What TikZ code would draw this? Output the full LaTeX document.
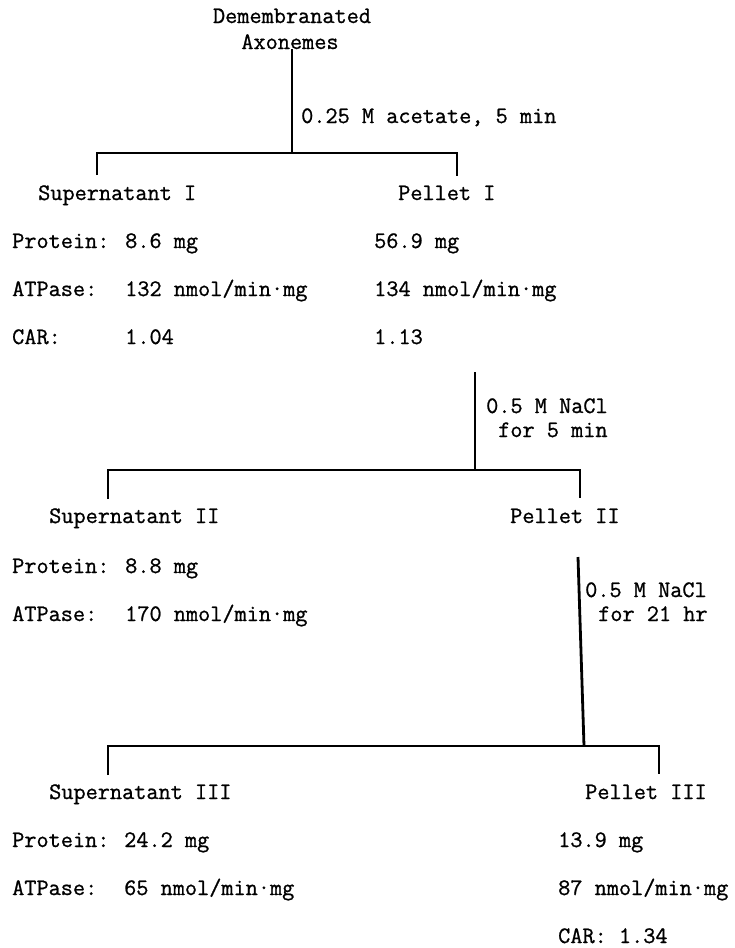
\documentclass[tikz,border=0pt]{standalone}
\usepackage{fontspec}
\newfontfamily\typew{Latin Modern Mono}[FakeBold=0.9]
\begin{document}
\begin{tikzpicture}[x=1pt,y=-1pt,
  txt/.style={font=\typew\fontsize{23.6}{26}\selectfont, inner sep=0pt, anchor=base west},
  ctr/.style={txt, anchor=base},
  branch/.style={line width=2.8pt, line join=miter}]
\useasboundingbox (0,0) rectangle (735,948);
\fill[white] (0,0) rectangle (735,948);

% ---- level 1
\node[ctr] (dem) at (292,23) {Demembranated};
\node[ctr] (axo) at (290,49) {Axonemes};
\coordinate (j1) at (292,153);
\coordinate (l1) at (97,175);
\coordinate (r1) at (457,176);
\draw[branch] (axo.south -| j1) -- (j1);
\draw[branch] (l1) |- (j1) -| (r1);
\node[txt] (lab1) at (301,123) {0.25 M acetate, 5 min};

\node[txt] (sup1) at (38,200) {Supernatant I};
\node[txt] (pel1) at (398,200) {Pellet I};
\node[txt] (s1p) at (12,248) {Protein:};
\node[txt] (s1pv) at (125,248) {8.6 mg};
\node[txt] (s1a) at (12,296) {ATPase:};
\node[txt] (s1av) at (125,296) {132 nmol/min·mg};
\node[txt] (s1c) at (12,344) {CAR:};
\node[txt] (s1cv) at (125,344) {1.04};
\node[txt] (p1p) at (374,248) {56.9 mg};
\node[txt] (p1a) at (374,296) {134 nmol/min·mg};
\node[txt] (p1c) at (374,344) {1.13};

% ---- level 2
\coordinate (t2) at (475,372);
\coordinate (j2) at (475,470);
\coordinate (l2) at (108,499);
\coordinate (r2) at (580,498);
\draw[branch] (t2) -- (j2);
\draw[branch] (l2) |- (j2) -| (r2);
\node[txt] (lab2a) at (486,413) {0.5 M NaCl};
\node[txt] (lab2b) at (498,437) {for 5 min};

\node[txt] (sup2) at (49,523) {Supernatant II};
\node[txt] (pel2) at (510,523) {Pellet II};
\node[txt] (s2p) at (12,573) {Protein:};
\node[txt] (s2pv) at (125,573) {8.8 mg};
\node[txt] (s2a) at (12,621) {ATPase:};
\node[txt] (s2av) at (125,621) {170 nmol/min·mg};

% ---- level 3
\coordinate (t3) at (578,557);
\coordinate (j3) at (584,746);
\coordinate (l3) at (108,775);
\coordinate (r3) at (659,774);
\draw[branch] (t3) -- (j3);
\draw[branch] (l3) |- (j3) -| (r3);
\node[txt] (lab3a) at (585,597) {0.5 M NaCl};
\node[txt] (lab3b) at (598,621) {for 21 hr};

\node[txt] (sup3) at (49,799) {Supernatant III};
\node[txt] (pel3) at (585,799) {Pellet III};
\node[txt] (s3p) at (12,847) {Protein:};
\node[txt] (s3pv) at (124,847) {24.2 mg};
\node[txt] (s3a) at (12,895) {ATPase:};
\node[txt] (s3av) at (124,895) {65 nmol/min·mg};
\node[txt] (p3p) at (558,847) {13.9 mg};
\node[txt] (p3a) at (558,895) {87 nmol/min·mg};
\node[txt] (p3c) at (558,943) {CAR: 1.34};
\end{tikzpicture}
\end{document}
